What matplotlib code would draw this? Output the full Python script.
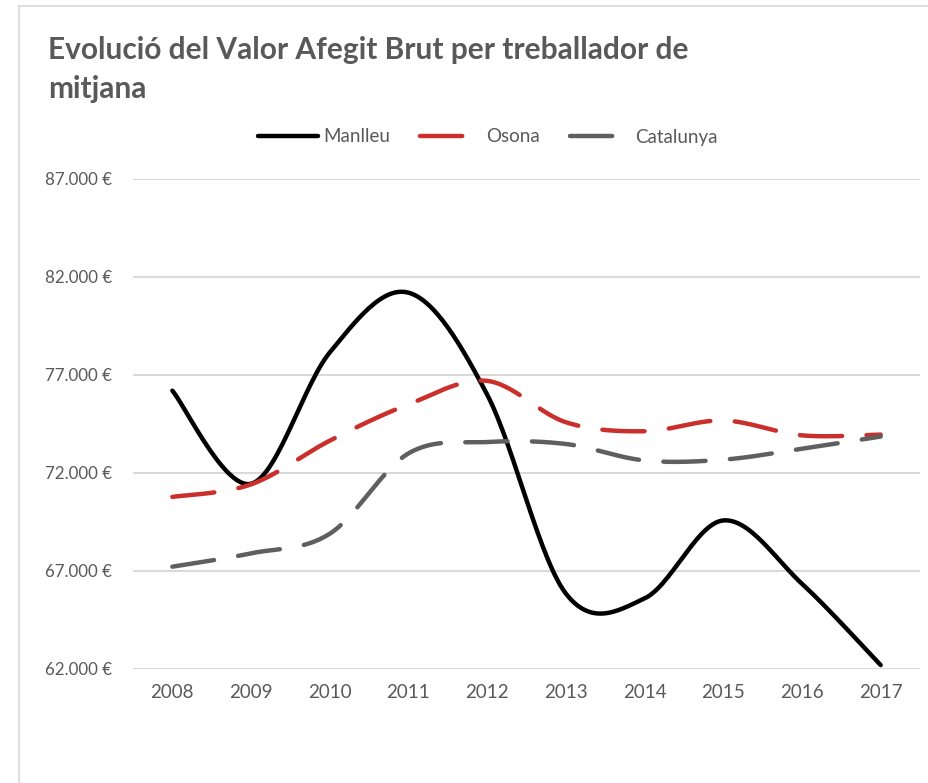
import numpy as np
import matplotlib.pyplot as plt
from matplotlib.lines import Line2D
from matplotlib.ticker import FuncFormatter

# Data
years = ['2008', '2009', '2010', '2011', '2012', '2013', '2014', '2015', '2016', '2017']
manlleu = [76200, 71450, 78150, 81200, 76000, 65850, 65600, 69580, 66350, 62200]
osona = [70780, 71420, 73650, 75500, 76700, 74590, 74130, 74680, 73920, 73960]
catalunya = [67220, 67900, 68900, 73000, 73580, 73480, 72640, 72680, 73240, 73860]

series_names = ['Manlleu', 'Osona', 'Catalunya']
colors = ['#000000', '#CB2F2B', '#5F5F5F']
text_color = '#595959'

plt.rcParams['font.family'] = ['Lato', 'DejaVu Sans']


def smooth(y, n=30):
    # Catmull-Rom spline, similar to Excel's "smoothed line"
    y = np.asarray(y, dtype=float)
    x = np.arange(len(y), dtype=float)
    px = np.concatenate([[x[0]], x, [x[-1]]])
    py = np.concatenate([[y[0]], y, [y[-1]]])
    xs, ys = [], []
    t = np.linspace(0, 1, n, endpoint=False)
    for i in range(1, len(px) - 2):
        for p, out in ((px, xs), (py, ys)):
            p0, p1, p2, p3 = p[i - 1], p[i], p[i + 1], p[i + 2]
            out.extend(0.5 * ((2 * p1) + (-p0 + p2) * t
                              + (2 * p0 - 5 * p1 + 4 * p2 - p3) * t ** 2
                              + (-p0 + 3 * p1 - 3 * p2 + p3) * t ** 3))
    xs.append(x[-1])
    ys.append(y[-1])
    return np.array(xs), np.array(ys)


fig = plt.figure(figsize=(9.29, 7.83), dpi=100)
ax = fig.add_axes([133 / 929, 1 - 669 / 783, (920 - 133) / 929, (669 - 179) / 783])

lw = 3.2
for vals, name, c in zip([manlleu, osona, catalunya], series_names, colors):
    sx, sy = smooth(vals)
    if name == 'Manlleu':
        ax.plot(sx, sy, color=c, lw=lw, solid_capstyle='round', zorder=3)
    else:
        ax.plot(sx, sy, color=c, lw=lw, dashes=(9.5, 5.5),
                dash_capstyle='round', zorder=3)

ax.set_xlim(-0.5, len(years) - 0.5)
ax.set_ylim(62000, 87000)
ax.set_yticks(np.arange(62000, 87001, 5000))
ax.yaxis.set_major_formatter(FuncFormatter(lambda v, p: f'{int(v):,} €'.replace(',', '.')))
ax.set_xticks(range(len(years)))
ax.set_xticklabels(years)
ax.grid(axis='y', color='#D9D9D9', lw=1.5)
ax.set_axisbelow(True)
for s in ax.spines.values():
    s.set_visible(False)
ax.tick_params(length=0, labelcolor=text_color)
ax.tick_params(axis='y', pad=15, labelsize=12.2)
ax.tick_params(axis='x', pad=11, labelsize=13.5)

# Title
fig.text(48 / 929, 1 - 50 / 783, 'Evolució del Valor Afegit Brut per treballador de',
         fontsize=21.5, fontweight='bold', color=text_color, va='center', ha='left')
fig.text(48 / 929, 1 - 89 / 783, 'mitjana',
         fontsize=21.5, fontweight='bold', color=text_color, va='center', ha='left')

# Legend
handles = [Line2D([], [], color=colors[0], lw=lw, solid_capstyle='round'),
           Line2D([], [], color=colors[1], lw=lw, dashes=(9.5, 5.5), dash_capstyle='round'),
           Line2D([], [], color=colors[2], lw=lw, dashes=(9.5, 5.5), dash_capstyle='round')]
fig.legend(handles, series_names, loc='center', bbox_to_anchor=(488 / 929, 1 - 137 / 783),
           ncol=3, frameon=False, fontsize=13.5, labelcolor=text_color,
           handlelength=3.2, handletextpad=0.3, columnspacing=1.6)

# Chart border (left and top visible)
fig.add_artist(Line2D([19 / 929, 19 / 929], [0, 1 - 6 / 783], color='#D9D9D9', lw=1.2))
fig.add_artist(Line2D([19 / 929, 1], [1 - 6 / 783, 1 - 6 / 783], color='#D9D9D9', lw=1.2))

fig.savefig('out.png', dpi=100)
